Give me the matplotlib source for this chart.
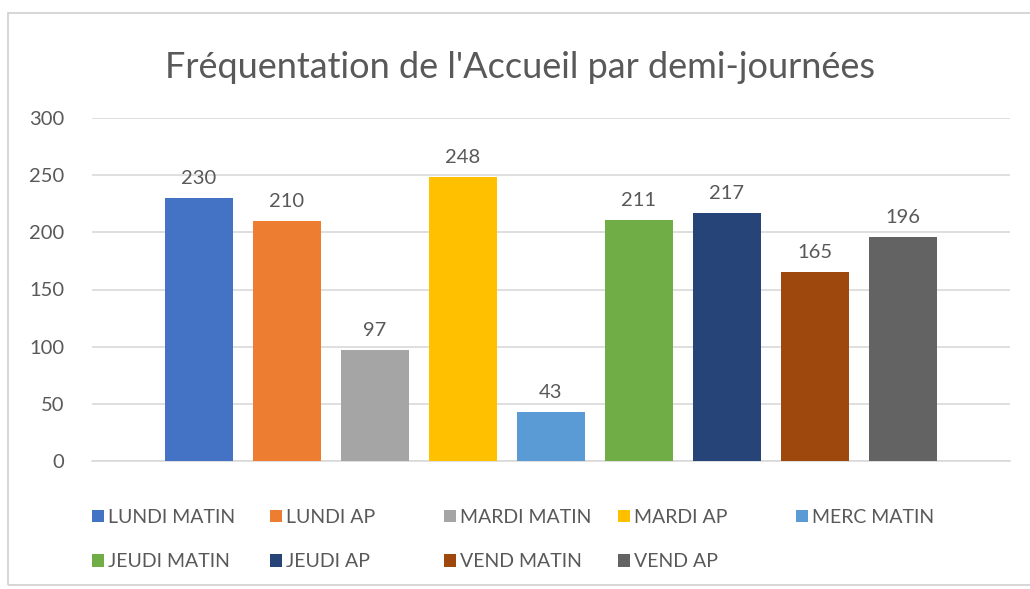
import matplotlib.pyplot as plt
from matplotlib.patches import Rectangle

# Series names, values and colours (Office palette)
series = ['LUNDI MATIN', 'LUNDI AP', 'MARDI MATIN', 'MARDI AP', 'MERC MATIN',
          'JEUDI MATIN', 'JEUDI AP', 'VEND MATIN', 'VEND AP']
values = [230, 210, 97, 248, 43, 211, 217, 165, 196]
colors = ['#4472C4', '#ED7D31', '#A5A5A5', '#FFC000', '#5B9BD5',
          '#70AD47', '#264478', '#9E480E', '#636363']
title = "Fréquentation de l'Accueil par demi-journées"
yticks = [0, 50, 100, 150, 200, 250, 300]

text_col = '#595959'
plt.rcParams['font.family'] = ['Lato', 'DejaVu Sans']

fig = plt.figure(figsize=(10.30, 5.89), dpi=100)
fig.patch.set_facecolor('white')

# Chart border like an Excel chart object
fig.patches.append(Rectangle((8 / 1030, 4 / 589), 1.0, 1 - 17 / 589,
                             transform=fig.transFigure, fill=False,
                             edgecolor='#D0D0D0', linewidth=1.2))

ax = fig.add_axes([92 / 1030, 1 - 461 / 589, 918 / 1030, 343 / 589])

handles = []
for i, (name, v, c) in enumerate(zip(series, values, colors)):
    b = ax.bar(i, v, width=0.77, color=c, label=name, zorder=3)
    handles.append(b)
    ax.annotate(str(v), (i, v), xytext=(0, 8), textcoords='offset points',
                ha='center', va='bottom', fontsize=14.5, color=text_col)

ax.set_xlim(-1.216, 9.216)
ax.set_ylim(0, 300)
ax.set_yticks(yticks)
ax.set_xticks([])
ax.tick_params(axis='y', length=0, labelsize=14.5, labelcolor=text_col, pad=20)
ax.grid(axis='y', color='#D9D9D9', linewidth=1.2, zorder=0)
for s in ['top', 'right', 'left']:
    ax.spines[s].set_visible(False)
ax.spines['bottom'].set_color('#D9D9D9')
ax.spines['bottom'].set_linewidth(1.2)

fig.text(0.505, 1 - 68 / 589, title, ha='center', va='center',
         fontsize=26, color=text_col)

# Legend: five evenly spaced columns, two rows
col_x = [92, 270, 444, 618, 796]
for col in range(5):
    idx = [j for j in (col, col + 5) if j < len(series)]
    lg = fig.legend([handles[j] for j in idx], [series[j] for j in idx],
                    loc='upper left',
                    bbox_to_anchor=(col_x[col] / 1030, 1 - 509 / 589),
                    frameon=False, fontsize=14, labelcolor=text_col,
                    handlelength=0.6, handleheight=0.6, handletextpad=0.2,
                    labelspacing=1.4, borderpad=0, borderaxespad=0)

fig.savefig('out.png', dpi=100)
